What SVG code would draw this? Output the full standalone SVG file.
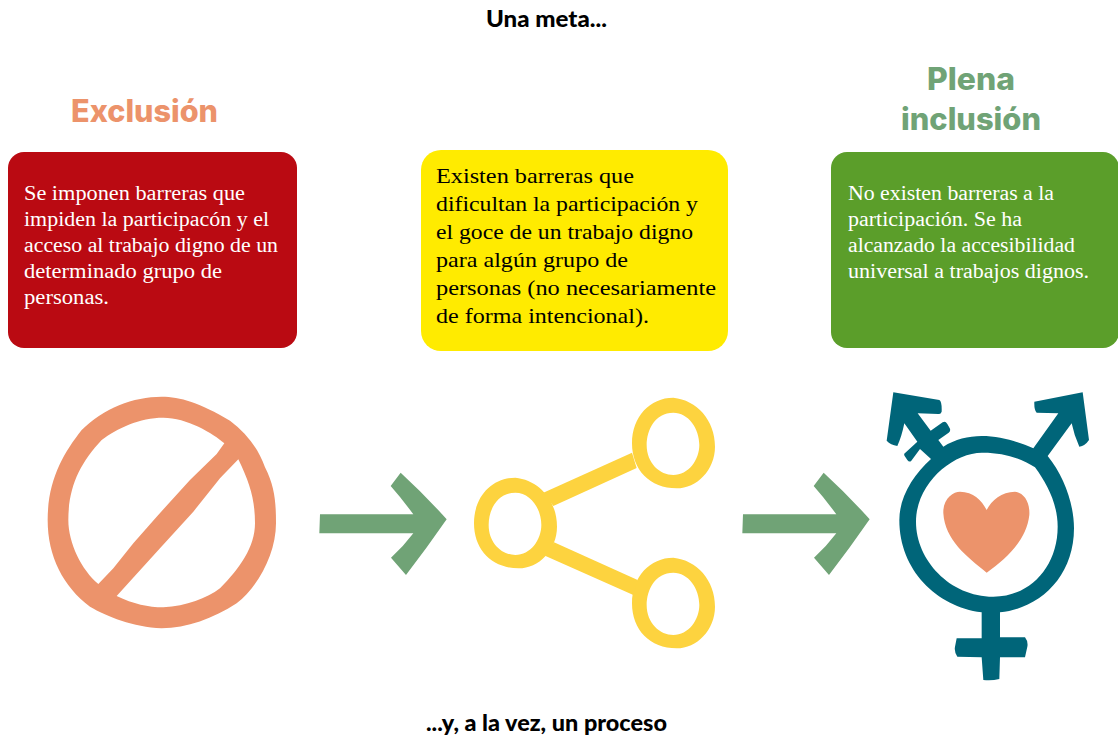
<svg xmlns="http://www.w3.org/2000/svg" xmlns:xlink="http://www.w3.org/1999/xlink" width="1118" height="743" viewBox="0 0 1118 743">
<style>
.cap{font-family:"Lato","Liberation Sans",sans-serif;font-weight:900;font-size:22px;fill:#000}
.head{font-family:"Inter","Liberation Sans",sans-serif;font-weight:800;font-size:31px;text-anchor:start}
.body{font-family:"Liberation Serif","DejaVu Serif",serif;font-size:20px;fill:#fff}
.bodyY{font-family:"Liberation Serif","DejaVu Serif",serif;font-size:22px;fill:#000}
.salmon{fill:#EC936B}.sage{fill:#70A376}.yel{fill:#FDD33F}.teal{fill:#006579}
</style>
<defs>
<path id="arrow" class="sage" d="M960 403L1240 403Q1205 355 1172 318L1202 278Q1275 345 1340 418Q1280 505 1218 585L1173 533Q1210 500 1240 460L958 460Z"/>
<path id="sharering" class="yel" fill-rule="evenodd" d="M640 53C710 60 765 120 765 200C765 270 710 325 650 325C570 325 516 270 516 190C516 110 570 53 640 53ZM640 98C585 98 560 150 560 195C560 250 600 285 640 285C685 285 718 240 718 195C718 145 685 98 640 98Z"/>
</defs>
<g id="title-top"><text class="cap" x="486" y="27" textLength="121" lengthAdjust="spacingAndGlyphs">Una meta...</text></g>
<g id="exclusion">
<text class="head salmon" x="71" y="122" textLength="147" lengthAdjust="spacingAndGlyphs">Exclusión</text>
<rect x="8" y="152" width="289" height="196" rx="16" fill="#BA0A12"/>
<text class="body" x="24" y="200" textLength="221" lengthAdjust="spacingAndGlyphs">Se imponen barreras que</text>
<text class="body" x="24" y="226" textLength="245" lengthAdjust="spacingAndGlyphs">impiden la participacón y el</text>
<text class="body" x="24" y="252" textLength="254" lengthAdjust="spacingAndGlyphs">acceso al trabajo digno de un</text>
<text class="body" x="24" y="278" textLength="198" lengthAdjust="spacingAndGlyphs">determinado grupo de</text>
<text class="body" x="24" y="304" textLength="85" lengthAdjust="spacingAndGlyphs">personas.</text>
</g>
<g id="integracion">
<rect x="421" y="150" width="307" height="201" rx="20" fill="#FFEB00"/>
<text class="bodyY" x="436" y="183" textLength="198" lengthAdjust="spacingAndGlyphs">Existen barreras que</text>
<text class="bodyY" x="436" y="211" textLength="262" lengthAdjust="spacingAndGlyphs">dificultan la participación y</text>
<text class="bodyY" x="436" y="239" textLength="257" lengthAdjust="spacingAndGlyphs">el goce de un trabajo digno</text>
<text class="bodyY" x="436" y="267" textLength="192" lengthAdjust="spacingAndGlyphs">para algún grupo de</text>
<text class="bodyY" x="436" y="295" textLength="280" lengthAdjust="spacingAndGlyphs">personas (no necesariamente</text>
<text class="bodyY" x="436" y="323" textLength="213" lengthAdjust="spacingAndGlyphs">de forma intencional).</text>
</g>
<g id="plena-inclusion">
<text class="head sage" x="927" y="90" textLength="88" lengthAdjust="spacingAndGlyphs">Plena</text>
<text class="head sage" x="901" y="130" textLength="140" lengthAdjust="spacingAndGlyphs">inclusión</text>
<rect x="831" y="152" width="288" height="196" rx="16" fill="#5B9E2A"/>
<text class="body" x="848" y="200" textLength="206" lengthAdjust="spacingAndGlyphs">No existen barreras a la</text>
<text class="body" x="848" y="226" textLength="174" lengthAdjust="spacingAndGlyphs">participación. Se ha</text>
<text class="body" x="848" y="252" textLength="227" lengthAdjust="spacingAndGlyphs">alcanzado la accesibilidad</text>
<text class="body" x="848" y="278" textLength="241" lengthAdjust="spacingAndGlyphs">universal a trabajos dignos.</text>
</g>
<g id="icon-prohibido" transform="translate(0,380) scale(.33333)">
<path class="salmon" fill-rule="evenodd" d="M485 50C540 50 600 68 690 122C740 160 775 205 795 262C825 320 828 370 828 430C828 520 775 620 710 670C640 715 560 745 485 745C400 740 320 710 270 680C190 620 143 530 143 420C143 300 190 220 245 150C310 85 400 50 485 50ZM673 190C640 160 560 113 490 113C420 113 350 145 305 180C240 250 205 320 205 420C205 490 245 570 295 612L340 565L400 490L470 410L570 300L650 222ZM715 238L660 295L580 395L480 505L350 648C400 672 445 682 490 682C560 678 620 655 660 625C720 565 765 500 765 430C765 360 750 310 715 238Z"/>
</g>
<g id="icon-compartir" transform="translate(460,380) scale(.33333)">
<use xlink:href="#sharering" href="#sharering"/>
<use xlink:href="#sharering" href="#sharering" y="480"/>
<use xlink:href="#sharering" href="#sharering" x="-474" y="240"/>
<path class="yel" d="M250 338L516 218L530 264L280 378Z"/>
<path class="yel" d="M255 527L520 645L533 600L282 487Z"/>
</g>
<g id="icon-trans" transform="translate(870,380) scale(.33333)">
<path class="teal" fill-rule="evenodd" d="M70 37L208 60Q216 64 215 95Q212 104 205 102L143 100L182 152L218 127Q226 122 232 132L240 146Q242 154 236 158L205 180L220 200C255 178 295 168 335 168C390 168 445 185 490 205L565 100L500 98Q492 90 493 65L638 37L657 180Q645 198 628 200Q612 165 605 130L533 228C580 285 612 370 612 445C612 590 510 685 390 697L390 772L465 772Q475 785 472 800L465 832L390 832L388 897Q365 903 340 900L335 832L262 830Q252 815 255 800L260 775L335 775L335 697C200 680 88 570 88 420C88 350 130 285 183 237L150 207L124 242Q118 248 112 240L104 228Q100 222 106 218L142 185L103 130Q95 170 82 198Q62 195 50 182ZM340 218C250 215 138 310 138 425C138 540 240 650 370 650C480 650 563 560 563 440C563 370 530 310 495 262C455 235 400 218 340 218Z"/>
<path class="salmon" d="M350 578C290 530 225 480 220 400C218 355 250 335 270 335C310 335 335 360 350 390C365 360 395 335 435 335C465 340 480 370 478 405C470 480 410 535 350 578Z"/>
</g>
<g id="connectors">
<use xlink:href="#arrow" href="#arrow" transform="translate(0,380) scale(.33333)"/>
<use xlink:href="#arrow" href="#arrow" transform="translate(423,380) scale(.33333)"/>
</g>
<g id="title-bottom"><text class="cap" x="426" y="731" textLength="241" lengthAdjust="spacingAndGlyphs">...y, a la vez, un proceso</text></g>
</svg>
